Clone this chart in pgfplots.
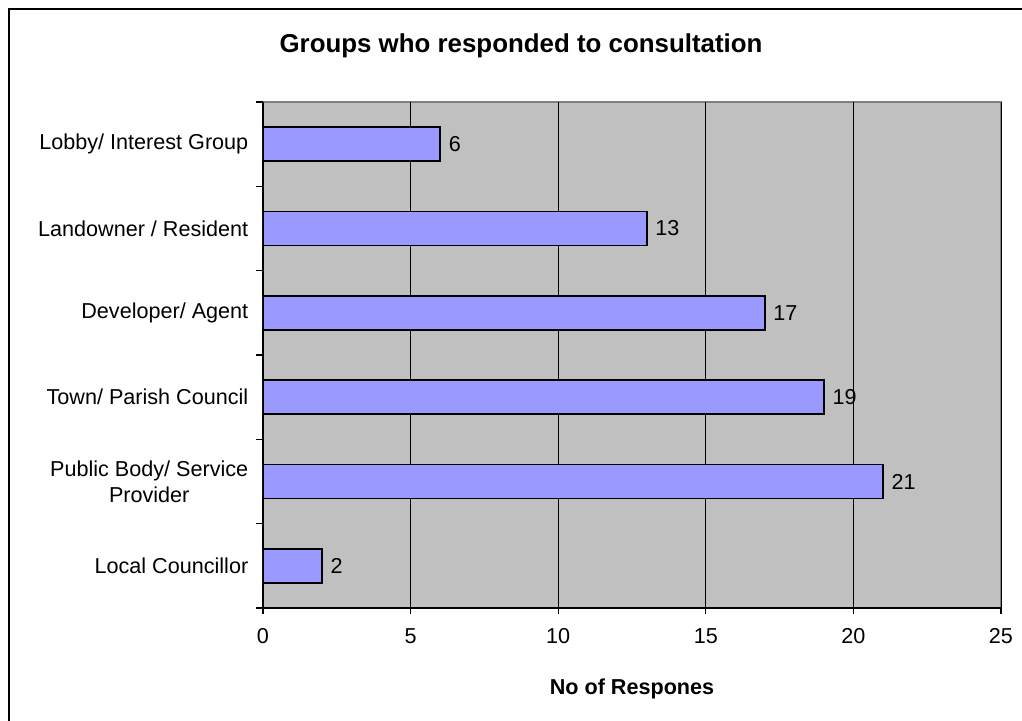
\documentclass[border=0pt]{standalone}
\usepackage{pgfplots}
\pgfplotsset{compat=1.18}
\usepackage{fontspec}
\setmainfont{Liberation Sans}
\definecolor{plotgray}{HTML}{C0C0C0}
\definecolor{barblue}{HTML}{9999FF}
\definecolor{edgegray}{HTML}{808080}
\pgfplotstableread{
y v
0 2
1 21
2 19
3 17
4 13
5 6
}\datatable
\begin{document}
\begin{tikzpicture}[x=0.75pt,y=0.75pt]
\path[use as bounding box] (0,0) rectangle (1022,721);
\draw[line width=1.1pt] (9,0) -- (9,712) -- (1022,712);
\node[anchor=base, font=\fontsize{19.4}{23}\selectfont\bfseries] at (521,668) {Groups who responded to consultation};
\begin{axis}[
  at={(197.25pt,84.75pt)}, anchor=south west,
  scale only axis, width=553.5pt, height=379.5pt,
  xmin=0, xmax=25, ymin=-0.5, ymax=5.5,
  axis x line*=bottom, axis y line*=left,
  axis line style={-, black, line width=0.9pt},
  axis background/.style={fill=plotgray, draw=edgegray, line width=0.8pt},
  xtick={0,5,...,25},
  ytick={0,...,5},
  yticklabels={Local Councillor, {Public Body/ Service\\Provider}, Town/ Parish Council, Developer/ Agent, Landowner / Resident, Lobby/ Interest Group},
  minor ytick={-0.5,0.5,...,5.5},
  every major y tick/.append style={draw=none},
  every minor y tick/.append style={draw=black, line width=0.8pt},
  tick align=outside,
  major tick length=4.5pt, minor tick length=5.25pt,
  tick style={black, line width=0.8pt},
  xmajorgrids, major grid style={black, line width=0.7pt},
  /pgf/number format/assume math mode=true,
  ticklabel style={font=\fontsize{16.2}{19.5}\selectfont},
  yticklabel style={align=center, xshift=-3pt},
  xticklabel style={yshift=-7.5pt},
  xlabel={No of Respones},
  xlabel style={font=\fontsize{16.2}{19.5}\selectfont\bfseries, yshift=-19pt},
  xbar, bar width=25.5pt,
  nodes near coords,
  nodes near coords style={font=\fontsize{16.2}{19.5}\selectfont, anchor=west, xshift=2.5pt},
]
\addplot[fill=barblue, draw=black, line width=1.3pt] table[x=v, y=y] {\datatable};
\end{axis}
\end{tikzpicture}
\end{document}
